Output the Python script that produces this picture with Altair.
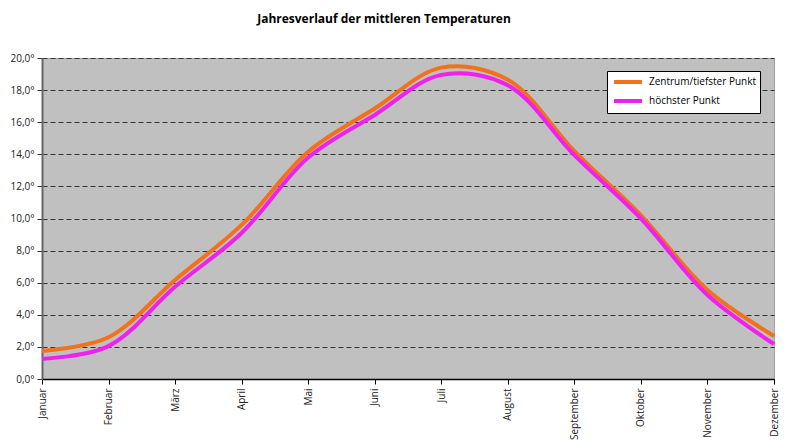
import altair as alt
import pandas as pd

months = ["Januar", "Februar", "März", "April", "Mai", "Juni", "Juli",
          "August", "September", "Oktober", "November", "Dezember"]
series_names = ["Zentrum/tiefster Punkt", "höchster Punkt"]
zentrum = [1.75, 2.6, 6.17, 9.6, 14.16, 16.85, 19.4, 18.65, 14.2, 10.2, 5.55, 2.68]
hoechster = [1.25, 2.05, 5.75, 9.1, 13.8, 16.45, 18.95, 18.3, 13.95, 10.0, 5.23, 2.18]
colors = ["#f2711c", "#f020ee"]

rows = []
for name, vals in zip(series_names, [zentrum, hoechster]):
    for i, (m, v) in enumerate(zip(months, vals)):
        rows.append({"Monat": m, "Temperatur": v, "Serie": name, "order": i})
df = pd.DataFrame(rows)

font = "Open Sans"

chart = alt.Chart(df).mark_line(
    interpolate="catmull-rom", strokeWidth=4
).encode(
    x=alt.X("Monat:N", sort=months, scale=alt.Scale(padding=0),
            axis=alt.Axis(title=None, labelAngle=270, labelAlign="right",
                          labelBaseline="middle", labelPadding=4,
                          domainColor="#000000", domainWidth=1.5,
                          tickColor="#000000", tickSize=5, grid=False,
                          labelFont=font, labelFontSize=10, labelColor="#222222")),
    y=alt.Y("Temperatur:Q", scale=alt.Scale(domain=[0, 20], nice=False),
            axis=alt.Axis(title=None, values=[0, 2, 4, 6, 8, 10, 12, 14, 16, 18, 20],
                          labelExpr="replace(format(datum.value, '.1f'), '.', ',') + '°'",
                          grid=True, gridDash=[5, 3], gridColor="#333333",
                          gridWidth=1.2, gridOpacity=1,
                          domainColor="#666666", domainWidth=2,
                          tickColor="#333333", tickSize=5,
                          labelFont=font, labelFontSize=10, labelColor="#222222",
                          labelPadding=3)),
    color=alt.Color("Serie:N", sort=series_names,
                    scale=alt.Scale(domain=series_names, range=colors),
                    legend=alt.Legend(title=None, orient="none", legendX=565, legendY=13,
                                      fillColor="#ffffff", strokeColor="#000000",
                                      padding=4, symbolType="M-2.8,0H2.8",
                                      symbolStrokeWidth=4, symbolSize=100,
                                      symbolOffset=10,
                                      labelFont=font, labelFontSize=10,
                                      labelColor="#000000", rowPadding=3,
                                      labelOffset=14)),
    order="order:Q",
).properties(
    width=732, height=321,
    autosize=alt.AutoSizeParams(type="none"),
    padding={"left": 34, "top": 50, "right": 18, "bottom": 61},
    title=alt.TitleParams("Jahresverlauf der mittleren Temperaturen",
                          font=font, fontSize=12, fontWeight="bold",
                          color="#000000", anchor="middle", dx=-24, offset=27),
).configure_view(
    fill="#c0c0c0", stroke="#a0a0a0", strokeWidth=1
)

chart.save("out.html", embed_options={"renderer": "svg", "actions": False})
